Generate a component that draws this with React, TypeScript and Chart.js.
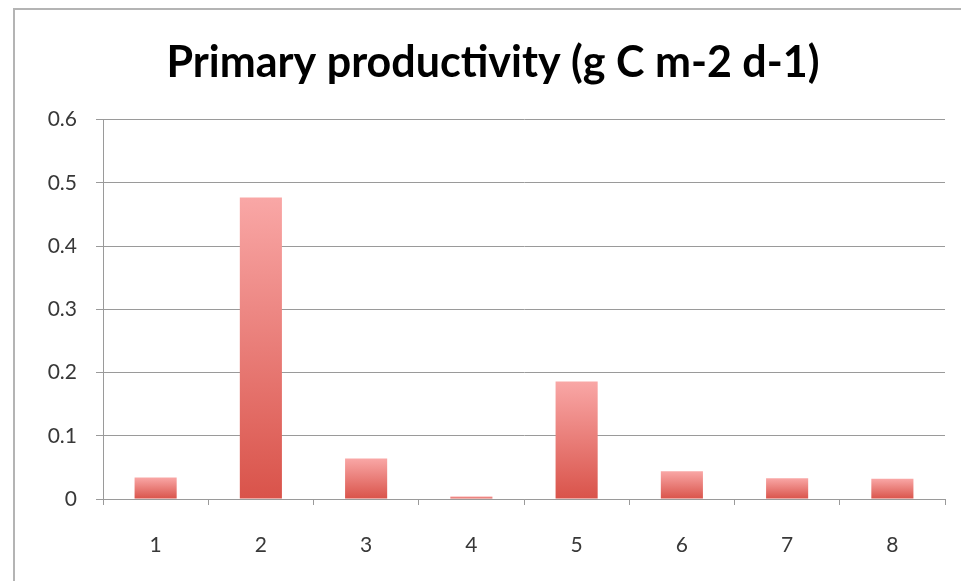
import React, { useEffect, useRef } from "react";
import { Chart, registerables } from "chart.js";

Chart.register(...registerables);

const title = "Primary productivity (g C m-2 d-1)";
const categories = ["1", "2", "3", "4", "5", "6", "7", "8"];
const productivity = [0.034, 0.477, 0.064, 0.004, 0.186, 0.044, 0.033, 0.032];
const yTickLabels = ["0", "0.1", "0.2", "0.3", "0.4", "0.5", "0.6"];

const FONT = "Lato, 'Open Sans', sans-serif";
const GRID = "#9a9a9a";

export default function App() {
  const canvasRef = useRef<HTMLCanvasElement | null>(null);

  useEffect(() => {
    const canvas = canvasRef.current;
    if (!canvas) return;
    const chart = new Chart(canvas, {
      type: "bar",
      data: {
        labels: categories,
        datasets: [
          {
            data: productivity,
            borderWidth: 0,
            categoryPercentage: 1,
            barPercentage: 0.4,
            backgroundColor: (ctx: any) => {
              const c = ctx.chart;
              if (!c.chartArea || ctx.type !== "data" || !c.scales.y) return "#e87a72";
              const ys = c.scales.y;
              const top = ys.getPixelForValue(ctx.raw as number);
              const base = ys.getPixelForValue(0);
              if (!isFinite(top) || !isFinite(base) || Math.abs(base - top) < 1) return "#e06058";
              const g = c.ctx.createLinearGradient(0, top, 0, base);
              g.addColorStop(0, "#f9a7a6");
              g.addColorStop(1, "#d9534a");
              return g;
            },
          },
        ],
      },
      options: {
        responsive: false,
        animation: false,
        devicePixelRatio: 1,
        layout: { padding: { left: 41, right: 16, top: 0, bottom: 0 } },
        plugins: {
          legend: { display: false },
          tooltip: { enabled: false },
          title: {
            display: true,
            text: title,
            color: "#000",
            font: { family: FONT, size: 43, weight: "bold", lineHeight: 1.2 },
            padding: { top: 37, bottom: 31 },
          },
        },
        scales: {
          x: {
            afterFit: (s: any) => {
              s.height = 82;
            },
            grid: {
              offset: true,
              drawOnChartArea: false,
              drawTicks: true,
              tickLength: 6,
              color: GRID,
            },
            border: { display: true, color: GRID, width: 1 },
            ticks: {
              color: "#383838",
              font: { family: FONT, size: 21 },
              padding: 28,
            },
          },
          y: {
            min: 0,
            max: 0.6,
            afterFit: (s: any) => {
              s.width = 62;
            },
            grid: {
              color: GRID,
              drawTicks: true,
              tickLength: 7,
            },
            border: { display: true, color: GRID, width: 1 },
            ticks: {
              stepSize: 0.1,
              color: "#383838",
              font: { family: FONT, size: 21 },
              padding: 19,
              callback: (_v: any, i: number) => yTickLabels[i],
            },
          },
        },
      },
    } as any);
    return () => chart.destroy();
  }, []);

  return (
    <div
      style={{
        position: "fixed",
        left: 0,
        top: 0,
        width: 961,
        height: 581,
        background: "#fff",
        overflow: "hidden",
      }}
    >
      <div
        style={{
          position: "absolute",
          left: 13,
          top: 8,
          width: 1000,
          height: 700,
          borderLeft: "2px solid #b4b4b4",
          borderTop: "2px solid #b4b4b4",
        }}
      />
      <canvas
        ref={canvasRef}
        width={961}
        height={581}
        style={{ position: "absolute", left: 0, top: 0, width: 961, height: 581 }}
      />
    </div>
  );
}
